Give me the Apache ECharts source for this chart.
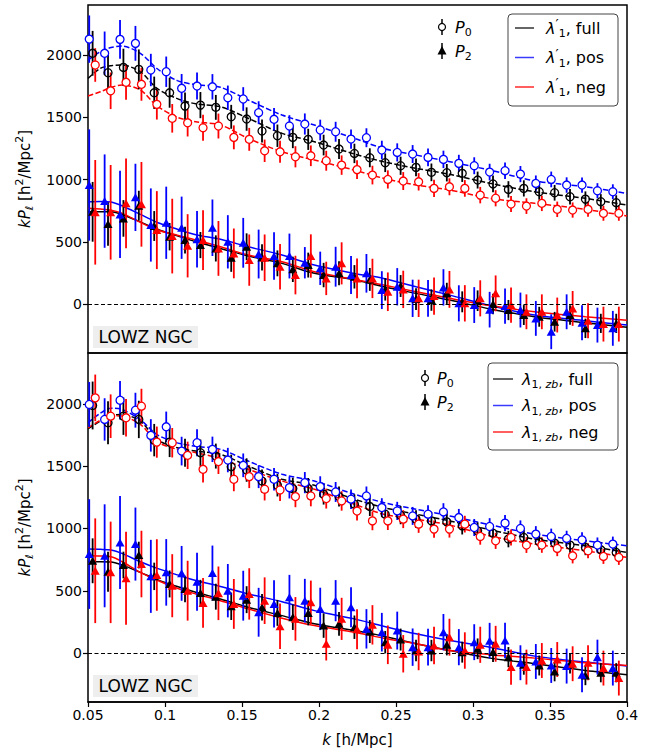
<!DOCTYPE html>
<html><head><meta charset="utf-8">
<script src="https://cdn.jsdelivr.net/npm/echarts@6/dist/echarts.min.js"></script>
<style>html,body{margin:0;padding:0;background:#fff}#c{width:664px;height:751px}</style>
</head><body><div id="c"></div>
<script>
// ---------------- DATA ----------------
const kBins = [0.053,0.063,0.073,0.083,0.093,0.103,0.113,0.123,0.133,0.143,0.153,0.163,0.173,0.183,0.193,0.203,0.213,0.223,0.233,0.243,0.253,0.263,0.273,0.283,0.293,0.303,0.313,0.323,0.333,0.343,0.353,0.363,0.373,0.383,0.393];
const modelK = [0.05,0.058,0.065,0.072,0.084,0.095,0.108,0.12,0.136,0.154,0.176,0.197,0.223,0.242,0.263,0.285,0.311,0.34,0.373,0.40];
const xTicks = [0.05,0.1,0.15,0.2,0.25,0.3,0.35,0.4];
const yTicks = [0,500,1000,1500,2000];
const seriesNames = ['full','pos','neg'];
const panelLabel = 'LOWZ NGC';

// top panel (lambda'_1)
const topP0Full = [2014,1858,1901,1885,1697,1697,1590,1598,1580,1504,1486,1390,1352,1339,1323,1277,1245,1210,1175,1135,1111,1098,1058,1055,1050,996,965,921,929,902,894,862,843,822,814];
const topP0Pos  = [2128,2014,2126,2094,1880,1866,1733,1751,1745,1657,1647,1537,1484,1430,1446,1398,1384,1325,1336,1237,1218,1205,1178,1162,1130,1111,1060,1071,1044,969,1001,956,956,910,902];
const topP0Neg  = [1920,1713,1781,1765,1604,1492,1456,1416,1430,1339,1323,1231,1223,1183,1191,1151,1116,1080,1036,1001,988,982,929,942,929,875,850,803,787,809,761,755,761,729,729];
const topP2Full = [741,643,688,790,627,541,514,474,447,372,460,375,327,279,313,233,247,219,198,118,145,40,32,86,18,27,0,-48,-88,-102,-142,-88,-195,-155,-155];
const topP2Pos  = [956,827,720,857,635,653,613,520,613,500,492,402,386,386,332,287,300,233,247,112,139,46,46,134,6,-8,-45,-16,-48,-115,-222,-62,-150,-169,-195];
const topP2Neg  = [737,737,809,801,594,546,468,514,447,407,353,372,300,233,386,206,327,206,206,99,118,46,64,118,6,46,86,-8,-62,-62,-88,-35,-134,-161,-161];
const topE0Full = [180,170,150,160,130,120,110,105,100,96,94,92,90,87,85,83,80,78,76,75,73,72,71,70,69,68,67,66,65,64,63,62,62,61,60];
const topE0Pos  = [190,175,155,140,130,122,115,108,102,98,95,92,90,87,85,83,80,78,76,75,73,72,71,70,69,68,67,66,65,64,63,62,61,61,60];
const topE0Neg  = [135,147,140,132,122,115,110,105,100,96,92,90,88,85,83,80,78,76,75,73,72,70,70,68,67,66,65,64,63,62,62,61,60,60,60];
const topE2Full = [240,174,147,120,120,110,107,105,105,113,108,106,104,102,100,98,96,94,92,90,88,87,86,85,84,83,82,81,80,80,79,78,78,77,77];
const topE2Pos  = [447,375,350,270,294,290,250,227,227,214,200,196,190,180,126,134,160,153,155,152,150,150,148,146,145,144,143,142,140,140,140,140,140,140,140];
const topE2Neg  = [420,380,360,340,313,300,254,240,220,200,206,187,183,155,174,134,169,160,158,155,150,150,150,148,146,145,144,142,140,140,140,140,140,140,140];
const topM0Full = [1813,1893,1915,1920,1866,1730,1650,1608,1585,1492,1371,1304,1205,1143,1090,1042,970,902,849,795];
const topM0Pos  = [1960,2026,2060,2072,2014,1890,1795,1762,1741,1639,1518,1438,1331,1250,1197,1143,1076,990,942,889];
const topM0Neg  = [1671,1705,1740,1759,1719,1590,1500,1464,1438,1331,1223,1157,1076,1010,956,916,849,809,761,707];
const topM2Full = [741,742,741,720,660,601,548,501,447,386,327,247,195,139,86,32,-39,-102,-150,-187];
const topM2Pos  = [822,824,820,790,720,655,601,557,520,460,394,313,246,206,139,72,-12,-88,-134,-169];
const topM2Neg  = [769,763,754,730,656,595,553,515,460,394,340,260,198,153,99,46,-12,-62,-102,-129];

// bottom panel (lambda_{1,zb})
const botP0Full = [1987,1848,1901,1875,1709,1693,1608,1608,1581,1496,1469,1381,1347,1320,1320,1275,1256,1195,1176,1115,1107,1075,1061,1053,1021,981,962,915,928,893,883,867,848,829,808];
const botP0Pos  = [1995,1875,2029,1949,1747,1816,1621,1688,1635,1549,1507,1416,1395,1328,1368,1336,1293,1235,1261,1168,1141,1101,1115,1133,1088,1008,1016,1043,1000,955,936,920,909,867,875];
const botP0Neg  = [2048,1901,1888,1981,1693,1688,1587,1475,1537,1395,1416,1315,1309,1256,1261,1240,1221,1140,1061,1061,1075,1035,995,995,1035,936,901,928,867,867,840,781,821,776,768];
const botP2Full = [741,653,707,787,616,555,515,483,453,376,429,368,323,288,323,221,235,208,173,88,109,21,21,67,8,35,10,-32,-93,-99,-147,-85,-179,-157,-157];
const botP2Pos  = [795,781,888,875,616,648,640,573,643,501,461,328,395,448,421,355,421,368,195,168,181,48,48,168,48,88,100,101,-77,-67,-99,-104,-173,-32,-120];
const botP2Neg  = [661,648,600,715,627,541,501,403,480,395,475,421,216,275,408,75,275,192,227,67,-5,13,61,128,21,67,75,-112,-112,-59,-51,-85,-77,-120,-200];
const botE0Full = [192,173,150,150,130,120,112,106,100,96,94,92,90,87,85,83,80,78,76,75,73,72,71,70,69,68,67,66,65,64,63,62,62,61,60];
const botE0Pos  = [180,170,155,140,130,122,115,108,102,98,95,92,90,87,85,83,80,78,76,75,73,72,71,70,69,68,67,66,65,64,63,62,61,61,60];
const botE0Neg  = [187,175,150,140,125,118,110,105,100,96,92,90,88,85,83,80,78,76,75,73,72,70,70,68,67,66,65,64,63,62,62,61,60,60,60];
const botE2Full = [180,160,107,107,110,108,106,105,104,110,108,106,104,102,100,98,96,94,92,90,88,87,86,85,84,83,82,81,80,80,79,78,78,77,77];
const botE2Pos  = [440,413,373,293,293,267,220,233,220,214,200,196,190,180,175,170,165,160,158,155,152,150,148,146,145,144,143,142,140,140,140,140,140,140,140];
const botE2Neg  = [420,407,373,267,287,253,240,200,215,200,206,187,183,175,174,134,169,160,158,155,150,150,150,148,146,145,144,142,140,140,140,140,140,140,140];
const botM0Full = [1800,1862,1905,1914,1861,1712,1648,1621,1595,1501,1395,1347,1235,1168,1115,1061,990,915,861,808];
const botM0Pos  = [1848,1925,1965,1955,1873,1752,1687,1660,1635,1541,1435,1381,1275,1208,1155,1101,1030,955,901,861];
const botM0Neg  = [1808,1868,1905,1902,1835,1695,1635,1608,1560,1475,1381,1315,1195,1115,1075,1027,940,875,821,768];
const botM2Full = [733,733,732,708,648,590,534,488,435,368,301,235,181,136,75,21,-40,-85,-139,-173];
const botM2Pos  = [835,833,827,800,733,680,628,583,535,475,413,341,275,216,155,101,48,-24,-72,-104];
const botM2Neg  = [781,779,774,735,648,585,520,475,421,355,280,221,168,120,75,21,-12,-40,-77,-99];

// ---------------- STYLE ----------------
const F = 'DejaVu Sans';
const COLORS = ['#000000','#0000ff','#ff0000'];
const LEGCOLORS = ['#333333','#3a3aff','#ff2a2a'];
const DODGE = [0, -0.0022, 0.0017];
const CIRCLE_FILL = ['rgba(255,255,255,0)','#ffffff','#ffffff'];

function errSeries(g, xs, vals, errs, color) {
  return {
    type:'custom', xAxisIndex:g, yAxisIndex:g, silent:true, z:3,
    data: xs.map((k,i)=>[k, vals[i]-errs[i], vals[i]+errs[i]]),
    encode:{x:0, y:[1,2]},
    renderItem:(params, api)=>{
      const lo = api.coord([api.value(0), api.value(1)]);
      const hi = api.coord([api.value(0), api.value(2)]);
      return {type:'line', shape:{x1:lo[0],y1:lo[1],x2:hi[0],y2:hi[1]}, style:{stroke:color, lineWidth:1.8}};
    }
  };
}

function buildPanel(g, P0, E0, P2, E2, M0, M2) {
  const out = [];
  for (let s=0; s<3; s++) {
    const l0 = {type:'line', xAxisIndex:g, yAxisIndex:g, silent:true, z:2, smooth:0.3, showSymbol:false,
      data: modelK.map((k,i)=>[k, M0[s][i]]), lineStyle:{color:COLORS[s], width:1.5, type:[5.5,2.4]}};
    if (s===0) {
      l0.markLine = {silent:true, symbol:'none', label:{show:false}, animation:false,
        lineStyle:{color:'#000', type:[4,2.5], width:1}, data:[{yAxis:0}]};
    }
    out.push(l0);
    out.push({type:'line', xAxisIndex:g, yAxisIndex:g, silent:true, z:2, smooth:0.3, showSymbol:false,
      data: modelK.map((k,i)=>[k, M2[s][i]]), lineStyle:{color:COLORS[s], width:1.5}});
  }
  for (let s=0; s<3; s++) {
    const xs = kBins.map(k=>k+DODGE[s]);
    out.push(errSeries(g, xs, P0[s], E0[s], COLORS[s]));
    out.push({type:'scatter', xAxisIndex:g, yAxisIndex:g, silent:true, z:4, symbol:'circle', symbolSize:8,
      data: xs.map((k,i)=>[k, P0[s][i]]),
      itemStyle:{color:CIRCLE_FILL[s], borderColor:COLORS[s], borderWidth:1.3, opacity:1}});
    out.push(errSeries(g, xs, P2[s], E2[s], COLORS[s]));
    out.push({type:'scatter', xAxisIndex:g, yAxisIndex:g, silent:true, z:4, symbol:'triangle', symbolSize:[9,8],
      data: xs.map((k,i)=>[k, P2[s][i]]),
      itemStyle:{color:COLORS[s], opacity:1}});
  }
  return out;
}

function rich(size) {
  const s = Math.round(size*0.7);
  return {
    i:{fontStyle:'italic', fontFamily:F, fontSize:size, lineHeight:size+6, fill:'#000', color:'#000'},
    sub:{fontFamily:F, fontSize:s, verticalAlign:'bottom', lineHeight:s, color:'#000', fill:'#000'},
    subi:{fontFamily:F, fontStyle:'italic', fontSize:s, verticalAlign:'bottom', lineHeight:s, color:'#000', fill:'#000'},
    sup:{fontFamily:F, fontSize:s, verticalAlign:'top', lineHeight:s, color:'#000', fill:'#000'},
    pr:{fontFamily:F, fontSize:Math.round(size*0.85), verticalAlign:'top', lineHeight:Math.round(size*0.85), color:'#000', fill:'#000'}
  };
}
function txt(x, y, text, size) {
  return {type:'text', x:x, y:y, z:100,
    style:{text:text, fontFamily:F, fontSize:size, fill:'#000', align:'left', verticalAlign:'middle', lineHeight:size+6, rich:rich(size)}};
}

function legendP(x, y0, y1, tx) {
  return [
    {type:'line', z:100, shape:{x1:x,y1:y0-8,x2:x,y2:y0+8}, style:{stroke:'#000', lineWidth:1.5}},
    {type:'circle', z:101, shape:{cx:x, cy:y0, r:3.5}, style:{fill:'#fff', stroke:'#000', lineWidth:1.2}},
    txt(tx, y0, '{i|P}{sub|0}', 16),
    {type:'line', z:100, shape:{x1:x,y1:y1-8,x2:x,y2:y1+8}, style:{stroke:'#000', lineWidth:1.5}},
    {type:'polygon', z:101, shape:{points:[[x,y1-5],[x+4.5,y1+3.5],[x-4.5,y1+3.5]]}, style:{fill:'#000'}},
    txt(tx, y1, '{i|P}{sub|2}', 16)
  ];
}
function legendBox(bx, by, bw, bh, lx0, lx1, rows, tx, labels) {
  const els = [{type:'rect', z:99, shape:{x:bx, y:by, width:bw, height:bh, r:4}, style:{fill:'#fff', stroke:'#444', lineWidth:1}}];
  rows.forEach((y,s)=>{
    els.push({type:'line', z:100, shape:{x1:lx0,y1:y,x2:lx1,y2:y}, style:{stroke:LEGCOLORS[s], lineWidth:1.5}});
    els.push(txt(tx, y, labels[s], 16));
  });
  return els;
}
function panelTag(x, y, w, h) {
  return [
    {type:'rect', z:99, shape:{x:x, y:y, width:w, height:h}, style:{fill:'#eeeeee'}},
    {type:'text', z:100, x:x+w/2, y:y+h/2, style:{text:panelLabel, fontFamily:F, fontSize:17, fill:'#000', align:'center', verticalAlign:'middle'}}
  ];
}

const topLabels = seriesNames.map(n=>'{i|λ}{pr|′}{sub|1}, '+n);
const botLabels = seriesNames.map(n=>'{i|λ}{sub|1, }{subi|zb}, '+n);

const yName = '{i|kP}{subi|ℓ} [h{sup|2}/Mpc{sup|2}]';
function yAxis(g, mn, mx) {
  return {gridIndex:g, type:'value', min:mn, max:mx,
    axisLine:{show:false}, splitLine:{show:false},
    axisTick:{show:true, inside:false, length:5, lineStyle:{color:'#000', width:1.2}, customValues:yTicks},
    axisLabel:{customValues:yTicks, color:'#000', fontFamily:F, fontSize:14, margin:6, formatter:(v)=>String(v)},
    name:yName, nameLocation:'middle', nameGap:45, nameRotate:90,
    nameTextStyle:{fontFamily:F, fontSize:15, color:'#000', lineHeight:20, rich:rich(15)}
  };
}
function xAxis(g, showLab) {
  const ax = {gridIndex:g, type:'value', min:0.05, max:0.4, interval:0.05,
    splitLine:{show:false},
    axisLine:{show:showLab, onZero:false, lineStyle:{color:'#000', width:1.5}},
    axisTick:{show:showLab, inside:false, length:5, lineStyle:{color:'#000', width:1.2}, customValues:xTicks},
    axisLabel:{show:showLab, customValues:xTicks, color:'#000', fontFamily:F, fontSize:14, margin:6,
      formatter:(v)=>String(parseFloat((+v).toFixed(3)))}
  };
  if (showLab) {
    ax.name = '{i|k} [h/Mpc]';
    ax.nameLocation = 'middle';
    ax.nameGap = 27;
    ax.nameTextStyle = {fontFamily:F, fontSize:15, color:'#000', lineHeight:18, rich:rich(15)};
  }
  return ax;
}

const series = [].concat(
  buildPanel(0, [topP0Full,topP0Pos,topP0Neg], [topE0Full,topE0Pos,topE0Neg],
                [topP2Full,topP2Pos,topP2Neg], [topE2Full,topE2Pos,topE2Neg],
                [topM0Full,topM0Pos,topM0Neg], [topM2Full,topM2Pos,topM2Neg]),
  buildPanel(1, [botP0Full,botP0Pos,botP0Neg], [botE0Full,botE0Pos,botE0Neg],
                [botP2Full,botP2Pos,botP2Neg], [botE2Full,botE2Pos,botE2Neg],
                [botM0Full,botM0Pos,botM0Neg], [botM2Full,botM2Pos,botM2Neg])
);

const graphic = [].concat(
  legendP(442, 27, 51, 455),
  legendBox(508, 14, 110, 92, 515, 534, [28, 57.5, 87], 546, topLabels),
  legendP(425, 378, 402, 437),
  legendBox(488, 363, 130, 87, 493, 513, [379, 405.5, 432], 522, botLabels),
  panelTag(93, 326, 105, 22),
  panelTag(93, 675, 105, 22)
);

const option = {
  animation:false,
  backgroundColor:'#ffffff',
  textStyle:{fontFamily:F},
  grid:[
    {left:88, top:5, width:539, height:348, show:true, borderColor:'#000', borderWidth:1.5, backgroundColor:'rgba(0,0,0,0)'},
    {left:88, top:353, width:539, height:350, show:true, borderColor:'#000', borderWidth:1.5, backgroundColor:'rgba(0,0,0,0)'}
  ],
  xAxis:[xAxis(0,false), xAxis(1,true)],
  yAxis:[yAxis(0,-393,2402), yAxis(1,-392,2408)],
  series:series,
  graphic:graphic
};
const chart = echarts.init(document.getElementById('c'), null, {renderer:'svg'});
chart.setOption(option);
</script>
</body></html>
